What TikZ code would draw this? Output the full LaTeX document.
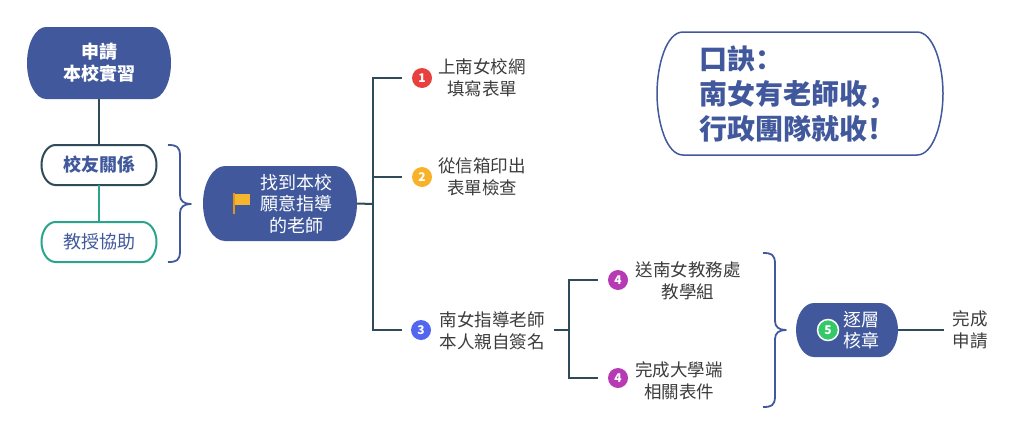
\documentclass[tikz,border=0pt]{standalone}
\usepackage{fontspec}
\setmainfont{Noto Sans CJK TC}
\newfontfamily\scpunct{Noto Sans CJK SC}
\usetikzlibrary{calc}
\definecolor{navy}{HTML}{41599C}
\definecolor{slate}{HTML}{2F4A58}
\definecolor{teal2}{HTML}{2AA58B}
\definecolor{txt}{HTML}{3C3C3C}
\definecolor{cred}{HTML}{E8403F}
\definecolor{corange}{HTML}{F8B22A}
\definecolor{cblue}{HTML}{5366F0}
\definecolor{cpurple}{HTML}{B53AB4}
\definecolor{cgreen}{HTML}{35C868}
\definecolor{flagc}{HTML}{F6B52E}
\definecolor{flagd}{HTML}{E0981C}
\pgfdeclarelayer{bg}\pgfsetlayers{bg,main}
\newcommand\pillshape[5]{%
\begin{pgfonlayer}{bg}
\path[#1] ($(#2.north west)+(#3,0)$) -- ($(#2.north east)+(-#3,0)$)
 .. controls ($(#2.north east)+(-#4*#3,0)$) and ($(#2.east)!#5!(#2.north east)$) .. (#2.east)
 .. controls ($(#2.east)!#5!(#2.south east)$) and ($(#2.south east)+(-#4*#3,0)$) .. ($(#2.south east)+(-#3,0)$)
 -- ($(#2.south west)+(#3,0)$)
 .. controls ($(#2.south west)+(#4*#3,0)$) and ($(#2.west)!#5!(#2.south west)$) .. (#2.west)
 .. controls ($(#2.west)!#5!(#2.north west)$) and ($(#2.north west)+(#4*#3,0)$) .. ($(#2.north west)+(#3,0)$) -- cycle;
\end{pgfonlayer}}
\newcommand\bracepath[4]{%
\draw[bracestyle] (#1,#2) .. controls (#1+8,#2) and (#1+12,#2+1) .. (#1+12,#2+11)
 -- (#1+12,#4-9) .. controls (#1+12,#4-3) and (#1+16,#4) .. (#1+23,#4)
 .. controls (#1+16,#4) and (#1+12,#4+3) .. (#1+12,#4+9)
 -- (#1+12,#3-11) .. controls (#1+12,#3-1) and (#1+8,#3) .. (#1,#3);}
% numbered badge: colour, name, x, y, digit
\newcommand\badge[5]{%
\fill[#1] (#3,#4) circle[radius=10pt];
\node[numtxt] (#2) at (#3,#4) {#5};}
\tikzset{
 shapebox/.style={rectangle, inner sep=0pt, outer sep=0pt, align=center},
 conn/.style={draw=slate, line width=2pt},
 bracestyle/.style={draw=navy, line width=1.8pt, line join=round},
 wtxt/.style={text=white, align=center, font=\fontsize{18}{22}\selectfont},
 lab/.style={text=txt, align=center, inner sep=2pt, outer sep=7pt, font=\fontsize{17.5}{21.5}\selectfont},
 numtxt/.style={inner sep=0pt, text=white, font=\fontsize{12}{12}\selectfont\bfseries},
}
\begin{document}
\begin{tikzpicture}[x=1pt,y=-1pt]
\useasboundingbox (0,0) rectangle (1024,434);
% left column
\node[shapebox, minimum width=144, minimum height=72, wtxt, font=\fontsize{18}{22}\selectfont\bfseries] (apply) at (99,63) {申請\\本校實習};
\pillshape{fill=navy}{apply}{19}{0.45}{0.55}
\node[shapebox, minimum width=115, minimum height=40, text=navy, font=\fontsize{18}{22}\selectfont\bfseries] (alum) at (99,165) {校友關係};
\pillshape{fill=white, draw=slate, line width=2pt}{alum}{14}{0.45}{0.55}
\node[shapebox, minimum width=115, minimum height=40, text=navy, font=\fontsize{18}{22}\selectfont] (prof) at (99,242) {教授協助};
\pillshape{fill=white, draw=teal2, line width=2pt}{prof}{14}{0.45}{0.55}
\draw[conn] (apply.south) -- (alum.north);
\draw[draw=teal2, line width=2pt] (alum.south) -- (prof.north);
\bracepath{168}{145}{262}{204}
% find teacher
\node[shapebox, minimum width=154, minimum height=75] (find) at (280,203.5) {};
\pillshape{fill=navy}{find}{22}{0.45}{0.55}
\node[wtxt, font=\fontsize{18}{21.5}\selectfont] (findtxt) at (296,204) {找到本校\\願意指導\\的老師};
\fill[flagc] (234,193.5) rectangle (250,205);
\fill[flagd] (232.5,193) rectangle (235,214);
% branches
\badge{cred}{c1}{422}{78}{1}
\node[lab] (l1) at (482,78) {上南女校網\\填寫表單};
\badge{corange}{c2}{422}{177}{2}
\node[lab] (l2) at (482,177) {從信箱印出\\表單檢查};
\badge{cblue}{c3}{421}{330}{3}
\node[lab] (l3) at (492,331) {南女指導老師\\本人親自簽名};
\coordinate (t1) at (373,204);
\coordinate (b1) at (402,78);
\coordinate (b2) at (402,177);
\coordinate (b3) at (402,330);
\draw[conn] (find.east) -- (t1);
\draw[conn] (t1) |- (b1);
\draw[conn] (t1) |- (b2);
\draw[conn] (t1) |- (b3);
% step 4
\badge{cpurple}{c4a}{618}{280}{4}
\node[lab] (l4a) at (688,281) {送南女教務處\\教學組};
\badge{cpurple}{c4b}{618}{378}{4}
\node[lab] (l4b) at (679,381) {完成大學端\\相關表件};
\coordinate (t2) at (569,330);
\coordinate (b4a) at (598,280);
\coordinate (b4b) at (598,378);
\draw[conn] (l3.east |- t2) -- (t2);
\draw[conn] (t2) |- (b4a);
\draw[conn] (t2) |- (b4b);
\bracepath{763}{253}{407}{330}
% step 5
\node[shapebox, minimum width=102, minimum height=54] (stamp) at (847,330) {};
\pillshape{fill=navy}{stamp}{18}{0.45}{0.55}
\fill[cgreen, draw=white, line width=1.5pt] (828,330) circle[radius=10.5pt];
\node[numtxt] (c5) at (828,330) {5};
\node[wtxt, font=\fontsize{18}{20.5}\selectfont] (stamptxt) at (861,330) {逐層\\核章};
\node[lab] (l5) at (970,330) {完成\\申請};
\draw[conn] (stamp.east) -- (l5.west);
% motto
\node[shapebox, minimum width=286, minimum height=123] (motto) at (800,93.5) {};
\pillshape{fill=white, draw=navy, line width=1.5pt}{motto}{26}{0.35}{0.45}
\node[anchor=west, align=left, text=navy, inner sep=0pt, font=\fontsize{28}{35}\selectfont\bfseries] (mottotxt) at (699,94) {口訣{\scpunct ：}\\南女有老師收{\scpunct ，}\\行政團隊就收{\scpunct ！}};
\end{tikzpicture}
\end{document}
